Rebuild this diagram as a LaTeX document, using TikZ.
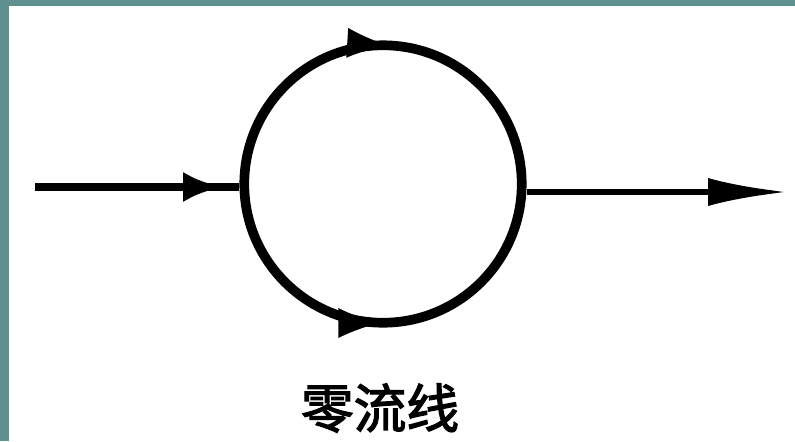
\documentclass[tikz,border=0pt]{standalone}
\usepackage{fontspec}
\newfontfamily\cjk[RawFeature={embolden=2.5}]{Noto Sans CJK SC}
\usetikzlibrary{arrows.meta, positioning, decorations.markings}
\definecolor{frame}{HTML}{5E9090}
\begin{document}
\begin{tikzpicture}[
                    x=0.02cm, y=-0.02cm,
                    ring/.style={circle, draw, line width=5.5pt, minimum size=5.55cm, inner sep=0pt},
                    flow/.style={draw, line width=#1, postaction={decorate}},
                    midarrow/.style={decoration={markings, mark=at position #1 with {\arrow{Latex[length=0.8cm, width=0.6cm]}}}},
                    outarrow/.style={-{Latex[length=1.6cm, width=0.56cm]}},
                    label/.style={font=\cjk\fontsize{30}{34}\selectfont}
                ]
                    % Frame
                    \useasboundingbox (0,0) rectangle (795,441);
                    \fill [frame] (0,0) rectangle (795,441);
                    \fill [white] (9,6) rectangle (795,441);

                    % Place nodes
                    \node [ring] (loop) at (383,184) {};
                    \coordinate (source) at (35,187);
                    \coordinate (sink) at (788,192);
                    \node [label] (name) at (380,408) {零流线};

                    % Draw edges
                    \path [flow=5pt, midarrow=0.92] (source) -- (loop.west |- source);
                    \path [flow=3.5pt, outarrow] (loop.east |- sink) -- (sink);
                    \path [flow=0pt, draw=none, midarrow=0.5] (loop.west) arc[start angle=180, end angle=0, radius=139];
                    \path [flow=0pt, draw=none, midarrow=0.52] (loop.west) arc[start angle=180, end angle=360, radius=139];
            \end{tikzpicture}
\end{document}
